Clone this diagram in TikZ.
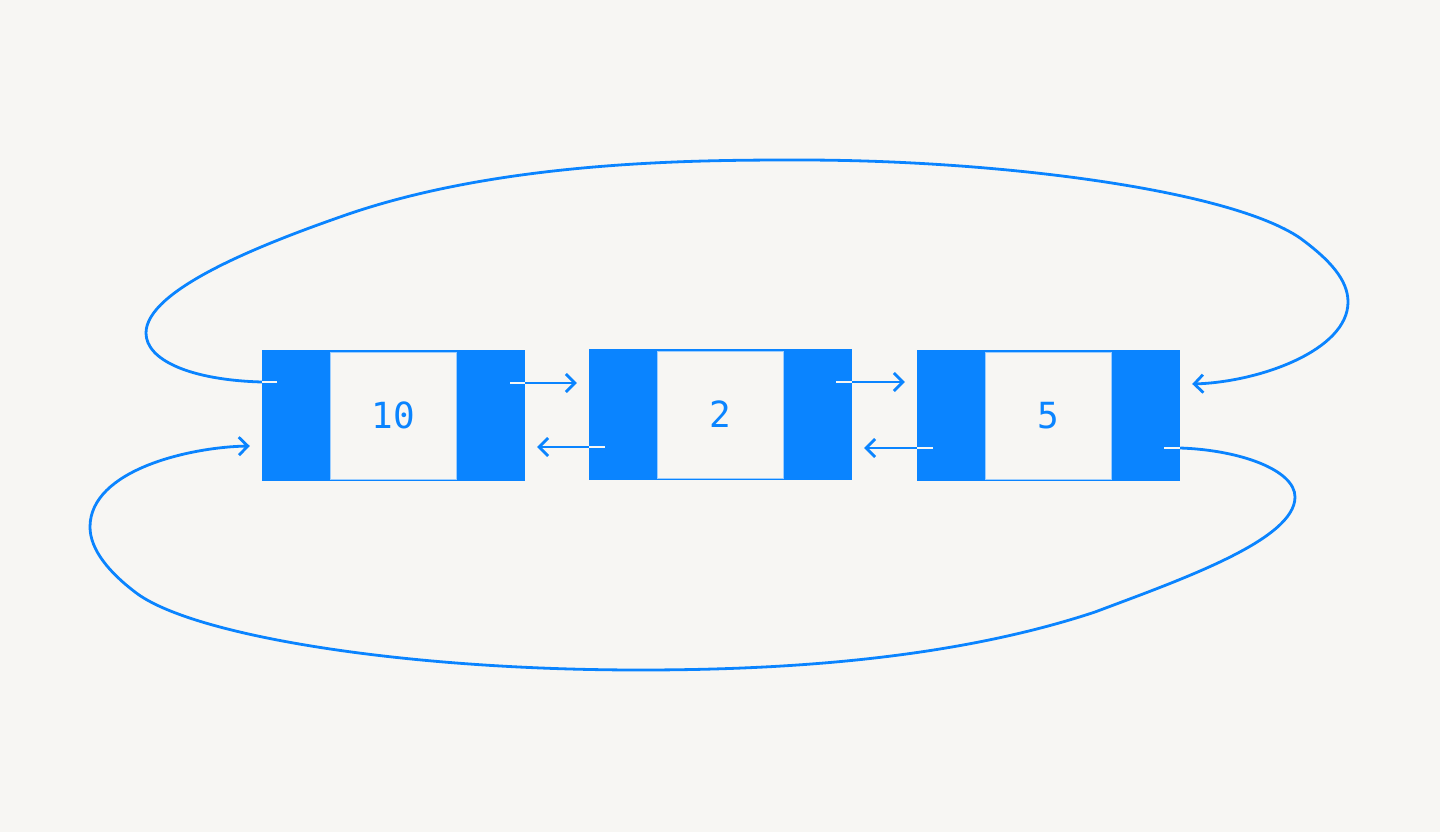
\documentclass[tikz,border=0pt]{standalone}
\usepackage{fontspec}
\newfontfamily\digitfont{DejaVu Sans Mono}
\usetikzlibrary{arrows.meta}
\definecolor{listblue}{RGB}{10,132,255}
\definecolor{paper}{RGB}{247,246,243}

\begin{document}
\begin{tikzpicture}[x=1pt, y=-1pt,
      cell/.style={rectangle, fill=listblue, draw=none,
          minimum width=263pt, minimum height=131pt, inner sep=0pt},
      val/.style={rectangle, fill=paper, draw=listblue!40,
          line width=0.8pt, minimum width=126pt, minimum height=127pt,
          inner sep=0pt, text=listblue, font=\digitfont\fontsize{36}{40}\selectfont},
      link/.style={draw=listblue, line width=2.8pt,
          -{Straight Barb[length=9pt, width=18pt]}},
      stub/.style={draw=paper, line width=2.8pt}]
    \useasboundingbox[fill=paper] (0,0) rectangle (1440,832);
    % the three cells
    \node[cell] (n1) at (393.5,415.5) {};
    \node[cell] (n2) at (720.5,414.5) {};
    \node[cell] (n3) at (1048.5,415.5) {};
    \node[val] (v1) at (n1) {10};
    \node[val] (v2) at (n2) {2};
    \node[val] (v3) at (n3) {5};
    % stub starts inside the cells
    \coordinate (s12) at (510,383);
    \coordinate (s21) at (605,447);
    \coordinate (s23) at (836,382);
    \coordinate (s32) at (933,448);
    \coordinate (s31) at (1164,448);
    \coordinate (s13) at (277,382);
    % next and prev links
    \draw[stub] (s12) -- (n1.east |- s12);
    \draw[link, shorten >=12pt] (n1.east |- s12) -- (n2.west |- s12);
    \draw[stub] (s21) -- (n2.west |- s21);
    \draw[link, shorten >=12pt] (n2.west |- s21) -- (n1.east |- s21);
    \draw[stub] (s23) -- (n2.east |- s23);
    \draw[link, shorten >=12pt] (n2.east |- s23) -- (n3.west |- s23);
    \draw[stub] (s32) -- (n3.west |- s32);
    \draw[link, shorten >=12pt] (n3.west |- s32) -- (n2.east |- s32);
    % wrap around: last to first
    \draw[stub] (s31) -- (n3.east |- s31);
    \draw[link] (n3.east |- s31)
      .. controls (1240,450) and (1295,470) .. (1295,497)
      .. controls (1295,540) and (1180,580) .. (1095,612)
      .. controls (950,660) and (780,670) .. (640,670)
      .. controls (400,670) and (190,635) .. (135,592)
      .. controls (110,573) and (90,550) .. (90,527)
      .. controls (90,470) and (190,447) .. ([xshift=-12pt]n1.west |- 0,446);
    % wrap around: first to last
    \draw[stub] (s13) -- (n1.west |- s13);
    \draw[link] (n1.west |- s13)
      .. controls (190,380) and (146,360) .. (146,333)
      .. controls (146,290) and (260,245) .. (340,217)
      .. controls (500,160) and (700,160) .. (800,160)
      .. controls (1000,160) and (1230,190) .. (1300,238)
      .. controls (1330,260) and (1348,280) .. (1348,302)
      .. controls (1348,350) and (1260,382) .. ([xshift=12pt]n3.east |- 0,384);
  \end{tikzpicture}
\end{document}
